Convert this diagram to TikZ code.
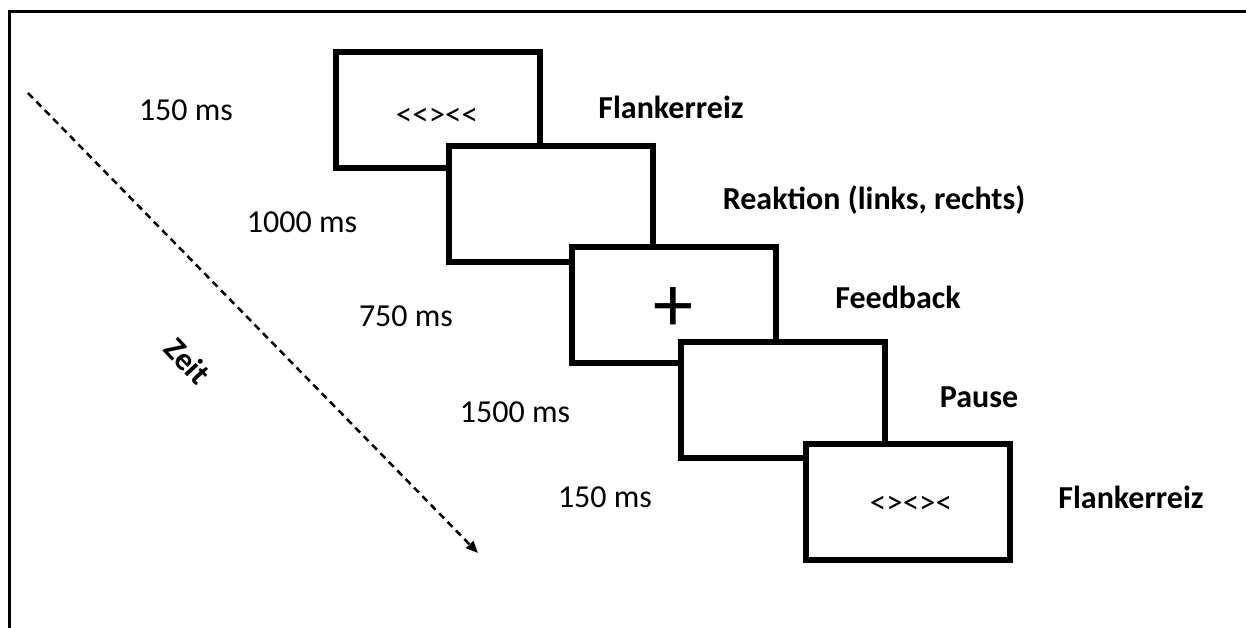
\documentclass[tikz,border=0pt]{standalone}
\usepackage{fontspec}
\setmainfont{Carlito}
\newfontfamily\symfont[Ligatures=TeXOff]{Carlito}
\usetikzlibrary{arrows.meta}
\tikzset{
  stim/.style={draw=black, fill=white, line width=6pt, minimum width=204pt, minimum height=116pt, inner sep=0pt},
  arrows text/.style={inner sep=0pt, font=\symfont\fontsize{33}{36}\selectfont},
  dur/.style={inner sep=0pt, font=\fontsize{32}{36}\selectfont},
  lab/.style={inner sep=0pt, font=\fontsize{32}{36}\selectfont\bfseries},
  timeline/.style={line width=2.5pt, dash pattern=on 7pt off 5pt, -{Triangle[length=12pt,width=10pt]}}
}
\begin{document}
\begin{tikzpicture}[x=1pt,y=-1pt]
\useasboundingbox (0,0) rectangle (1246,627);
\clip (0,0) rectangle (1246,627);
\fill[white] (0,0) rectangle (1246,627);
\draw[line width=3pt] (9,660) -- (9,11) -- (1280,11);
% timeline
\coordinate (ts) at (28,93);
\coordinate (te) at (478,553);
\draw[timeline] (ts) -- (te);
\node[lab, rotate=-47] (zeit) at (188,361) {Zeit};
% stimulus screens
\node[stim] (b1) at (438,110) {};
\node[arrows text] (s1) at (437,117) {<<><<};
\node[stim] (b2) at (551,203.5) {};
\node[stim] (b3) at (674,304.5) {};
\node[inner sep=0pt, font=\fontsize{80}{80}\selectfont] (plus) at (673,310) {+};
\node[stim] (b4) at (783,400) {};
\node[stim] (b5) at (907.5,501.5) {};
\node[arrows text] (s5) at (911,505) {<><><};
% durations
\node[dur] (d1) at (186,110) {150 ms};
\node[dur] (d2) at (302,222) {1000 ms};
\node[dur] (d3) at (406,316) {750 ms};
\node[dur] (d4) at (515,412) {1500 ms};
\node[dur] (d5) at (605,497) {150 ms};
% labels
\node[lab] (l1) at (671,107) {Flankerreiz};
\node[lab] (l2) at (874,200) {Reaktion (links, rechts)};
\node[lab] (l3) at (898,297) {Feedback};
\node[lab] (l4) at (979,397) {Pause};
\node[lab] (l5) at (1131,497) {Flankerreiz};
\end{tikzpicture}
\end{document}
